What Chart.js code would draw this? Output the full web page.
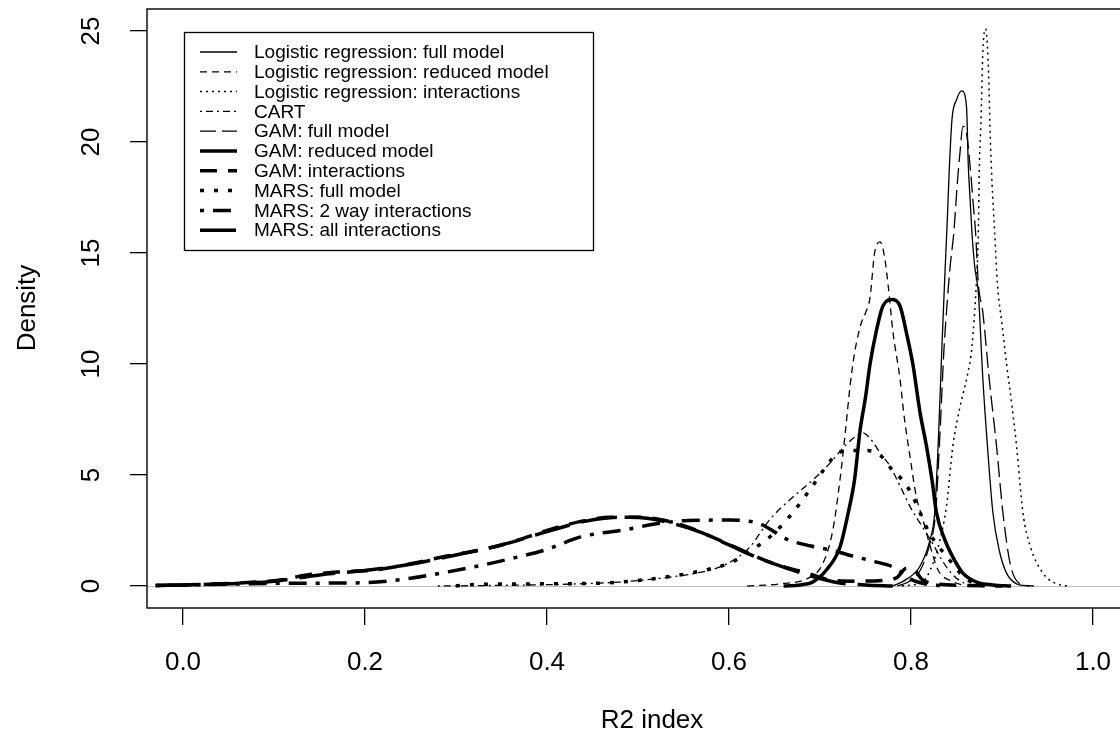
<!DOCTYPE html>
<html>
<head>
<meta charset="utf-8">
<script src="https://cdn.jsdelivr.net/npm/chart.js@4.4.1/dist/chart.umd.min.js"></script>
<style>
  html, body { margin: 0; padding: 0; background: #fff; overflow: hidden; }
  #wrap { width: 1120px; height: 753px; overflow: hidden; }
  canvas { display: block; }
</style>
</head>
<body>
<div id="wrap"><canvas id="chart" width="1150" height="753" style="width:1150px;height:753px"></canvas></div>
<script>
// axis ticks
const xTicks = [0, 0.2, 0.4, 0.6, 0.8, 1.0];
const xTickLabels = ["0.0", "0.2", "0.4", "0.6", "0.8", "1.0"];
const yTicks = [0, 5, 10, 15, 20, 25];
const yTickLabels = ["0", "5", "10", "15", "20", "25"];

const seriesNames = [
  "Logistic regression: full model",
  "Logistic regression: reduced model",
  "Logistic regression: interactions",
  "CART",
  "GAM: full model",
  "GAM: reduced model",
  "GAM: interactions",
  "MARS: full model",
  "MARS: 2 way interactions",
  "MARS: all interactions"
];

// density curves (R2 index, density)
const lrFullX = [0.78, 0.795, 0.81, 0.821, 0.826, 0.83, 0.834, 0.837, 0.84, 0.842, 0.845, 0.85, 0.856, 0.861, 0.863, 0.865, 0.867, 0.87, 0.874, 0.879, 0.884, 0.89, 0.897, 0.905, 0.916, 0.93];
const lrFullY = [0, 0.3, 0.9, 2.1, 3.3, 6.5, 10.8, 13.8, 16.6, 18.7, 21.0, 21.9, 22.3, 21.6, 18.9, 17.4, 15.9, 14.4, 13.2, 9.3, 6.3, 3.3, 1.6, 0.58, 0.1, 0];

const lrRedX = [0.62, 0.656, 0.689, 0.703, 0.714, 0.722, 0.728, 0.733, 0.738, 0.745, 0.75, 0.755, 0.76, 0.766, 0.771, 0.775, 0.78, 0.788, 0.792, 0.799, 0.806, 0.813, 0.821, 0.83, 0.846, 0.86];
const lrRedY = [0, 0.1, 0.4, 1.0, 2.5, 4.8, 7.0, 9.0, 10.5, 11.8, 12.3, 13.0, 15.0, 15.5, 14.8, 13.5, 11.5, 9.3, 7.8, 5.8, 4.0, 3.0, 1.8, 0.7, 0.2, 0];

const lrIntX = [0.79, 0.813, 0.824, 0.832, 0.839, 0.846, 0.854, 0.862, 0.867, 0.872, 0.874, 0.875, 0.877, 0.879, 0.882, 0.885, 0.887, 0.889, 0.892, 0.895, 0.9, 0.905, 0.911, 0.916, 0.923, 0.931, 0.945, 0.964, 0.975];
const lrIntY = [0, 0.2, 1.0, 2.1, 3.6, 6.3, 8.1, 9.5, 10.8, 13.8, 15.9, 18.7, 21.1, 24.1, 25.1, 23.4, 20.4, 18.2, 15.9, 13.6, 11.8, 10.0, 8.1, 6.3, 3.3, 1.8, 0.58, 0.05, 0];

const cartX = [0.28, 0.35, 0.42, 0.48, 0.535, 0.56, 0.59, 0.61, 0.623, 0.645, 0.67, 0.69, 0.708, 0.725, 0.738, 0.747, 0.756, 0.766, 0.777, 0.788, 0.8, 0.812, 0.824, 0.835, 0.846, 0.86, 0.875];
const cartY = [0, 0.03, 0.08, 0.18, 0.4, 0.55, 0.86, 1.3, 1.76, 3.0, 4.0, 4.7, 5.4, 6.2, 6.7, 6.9, 6.6, 6.0, 5.4, 4.5, 3.5, 2.7, 1.9, 1.1, 0.5, 0.1, 0];

const gamFullX = [0.785, 0.8, 0.81, 0.82, 0.827, 0.832, 0.836, 0.84, 0.843, 0.847, 0.851, 0.854, 0.857, 0.861, 0.865, 0.868, 0.871, 0.874, 0.879, 0.886, 0.894, 0.901, 0.909, 0.92, 0.935];
const gamFullY = [0, 0.25, 0.7, 1.8, 3.3, 7.0, 10.5, 12.9, 14.4, 15.9, 18.2, 19.6, 20.7, 20.4, 18.9, 17.4, 15.9, 13.6, 12.3, 9.3, 6.3, 3.3, 1.0, 0.1, 0];

const gamRedX = [0.66, 0.678, 0.692, 0.707, 0.722, 0.731, 0.738, 0.744, 0.75, 0.755, 0.762, 0.769, 0.779, 0.788, 0.795, 0.802, 0.81, 0.817, 0.823, 0.828, 0.837, 0.846, 0.857, 0.872, 0.89, 0.91];
const gamRedY = [0, 0.05, 0.18, 0.72, 1.76, 3.3, 4.8, 7.0, 8.5, 10.0, 11.5, 12.6, 12.9, 12.6, 11.4, 10.0, 7.8, 6.3, 4.8, 3.3, 2.1, 1.3, 0.58, 0.18, 0.05, 0];

const gamIntX = [-0.03, 0.0, 0.04, 0.08, 0.107, 0.136, 0.17, 0.21, 0.25, 0.29, 0.33, 0.363, 0.4, 0.436, 0.47, 0.5, 0.53, 0.555, 0.585, 0.62, 0.65, 0.686, 0.714, 0.74, 0.77, 0.785, 0.795, 0.803, 0.812, 0.83, 0.86, 0.9];
const gamIntY = [0.02, 0.05, 0.1, 0.18, 0.27, 0.5, 0.63, 0.72, 1.0, 1.35, 1.65, 2.0, 2.5, 2.9, 3.1, 3.1, 2.95, 2.65, 2.15, 1.5, 1.0, 0.58, 0.25, 0.22, 0.25, 0.4, 0.8, 0.75, 0.3, 0.08, 0.03, 0];

const marsFullX = [0.3, 0.31, 0.4, 0.458, 0.5, 0.53, 0.56, 0.587, 0.605, 0.62, 0.635, 0.65, 0.67, 0.69, 0.707, 0.72, 0.735, 0.752, 0.766, 0.78, 0.79, 0.8, 0.81, 0.82, 0.83, 0.84, 0.854, 0.87, 0.885];
const marsFullY = [0, 0.05, 0.1, 0.13, 0.25, 0.4, 0.6, 0.85, 1.1, 1.5, 1.9, 2.4, 3.3, 4.4, 5.4, 6.0, 6.1, 6.1, 5.9, 5.2, 4.8, 4.2, 3.3, 2.4, 1.8, 1.3, 0.58, 0.1, 0];

const mars2X = [-0.03, 0.0, 0.05, 0.1, 0.15, 0.2, 0.25, 0.29, 0.33, 0.363, 0.4, 0.436, 0.488, 0.52, 0.555, 0.6, 0.634, 0.664, 0.69, 0.714, 0.736, 0.76, 0.78, 0.79, 0.8, 0.815, 0.84];
const mars2Y = [0.02, 0.05, 0.08, 0.12, 0.13, 0.15, 0.35, 0.63, 0.95, 1.26, 1.65, 2.2, 2.55, 2.8, 2.95, 2.97, 2.8, 2.1, 1.8, 1.6, 1.35, 1.1, 0.86, 0.6, 0.3, 0.1, 0];

const marsAllX = [-0.03, 0.0, 0.05, 0.1, 0.15, 0.2, 0.25, 0.3, 0.35, 0.4, 0.44, 0.48, 0.51, 0.54, 0.57, 0.6, 0.63, 0.66, 0.69, 0.72, 0.75, 0.78];
const marsAllY = [0.02, 0.05, 0.1, 0.22, 0.5, 0.7, 0.98, 1.4, 1.85, 2.45, 2.9, 3.1, 3.05, 2.8, 2.4, 1.85, 1.3, 0.85, 0.45, 0.15, 0.05, 0];

const seriesX = [lrFullX, lrRedX, lrIntX, cartX, gamFullX, gamRedX, gamIntX, marsFullX, mars2X, marsAllX];
const seriesY = [lrFullY, lrRedY, lrIntY, cartY, gamFullY, gamRedY, gamIntY, marsFullY, mars2Y, marsAllY];

// R line types: width and dash pattern per series
const lineStyles = [
  { w: 1.3, dash: [] },
  { w: 1.3, dash: [7, 5] },
  { w: 1.5, dash: [2, 4] },
  { w: 1.3, dash: [2, 4, 7, 4] },
  { w: 1.3, dash: [16, 6] },
  { w: 3.5, dash: [] },
  { w: 3.5, dash: [17, 11] },
  { w: 3.5, dash: [4, 10] },
  { w: 3.5, dash: [4, 9, 18, 9] },
  { w: 3.5, dash: [36, 12] }
];

const FONT = '"Liberation Sans", Arial, sans-serif';

const datasets = seriesNames.map((name, i) => ({
  label: name,
  data: seriesX[i].map((x, j) => ({ x: x, y: seriesY[i][j] })),
  borderColor: "#000",
  borderWidth: lineStyles[i].w,
  borderDash: lineStyles[i].dash,
  borderCapStyle: "butt",
  pointRadius: 0,
  fill: false,
  cubicInterpolationMode: "monotone"
}));

// frame, zero line, tick labels, axis titles and legend in R style
const rStyle = {
  id: "rStyle",
  beforeDatasetsDraw(chart) {
    const { ctx, chartArea: a, scales } = chart;
    const y0 = Math.round(scales.y.getPixelForValue(0)) + 0.5;
    ctx.save();
    ctx.strokeStyle = "#bebebe";
    ctx.lineWidth = 1;
    ctx.beginPath();
    ctx.moveTo(a.left, y0);
    ctx.lineTo(a.right, y0);
    ctx.stroke();
    ctx.restore();
  },
  afterDraw(chart) {
    const { ctx, chartArea: a, scales } = chart;
    ctx.save();
    ctx.strokeStyle = "#000";
    ctx.lineWidth = 1.4;
    ctx.strokeRect(a.left, a.top, a.right - a.left, a.bottom - a.top);

    ctx.fillStyle = "#000";
    ctx.font = "26px " + FONT;
    ctx.textAlign = "center";
    ctx.textBaseline = "middle";
    xTicks.forEach((v, i) => {
      ctx.fillText(xTickLabels[i], scales.x.getPixelForValue(v), 663);
    });
    yTicks.forEach((v, i) => {
      ctx.save();
      ctx.translate(92, scales.y.getPixelForValue(v));
      ctx.rotate(-Math.PI / 2);
      ctx.fillText(yTickLabels[i], 0, 0);
      ctx.restore();
    });
    ctx.fillText("R2 index", 652, 721);
    ctx.save();
    ctx.translate(28, 308);
    ctx.rotate(-Math.PI / 2);
    ctx.fillText("Density", 0, 0);
    ctx.restore();

    // legend box
    ctx.lineWidth = 1.3;
    ctx.strokeRect(184.5, 32.5, 409, 218);
    ctx.font = "19px " + FONT;
    ctx.textAlign = "left";
    seriesNames.forEach((name, i) => {
      const yy = 52 + i * 19.8;
      ctx.save();
      ctx.lineWidth = lineStyles[i].w;
      ctx.setLineDash(lineStyles[i].dash);
      ctx.lineCap = "butt";
      ctx.beginPath();
      ctx.moveTo(200, yy);
      ctx.lineTo(237, yy);
      ctx.stroke();
      ctx.restore();
      ctx.fillText(name, 254, yy + 1);
    });
    ctx.restore();
  }
};

new Chart(document.getElementById("chart"), {
  type: "line",
  data: { datasets: datasets },
  plugins: [rStyle],
  options: {
    responsive: false,
    animation: false,
    layout: { padding: { top: 9, right: 10, left: 0, bottom: 0 } },
    plugins: { legend: { display: false }, tooltip: { enabled: false } },
    scales: {
      x: {
        type: "linear",
        min: -36 / 910,
        max: 957 / 910,
        afterBuildTicks: s => { s.ticks = xTicks.map(v => ({ value: v })); },
        afterFit: s => { s.height = 145; },
        ticks: { display: false },
        border: { display: false },
        grid: { drawOnChartArea: false, drawTicks: true, tickLength: 17, color: "#000", lineWidth: 1.3 }
      },
      y: {
        type: "linear",
        min: -0.99,
        max: 25.99,
        afterBuildTicks: s => { s.ticks = yTicks.map(v => ({ value: v })); },
        afterFit: s => { s.width = 147; },
        ticks: { display: false },
        border: { display: false },
        grid: { drawOnChartArea: false, drawTicks: true, tickLength: 17, color: "#000", lineWidth: 1.3 }
      }
    }
  }
});
</script>
</body>
</html>
